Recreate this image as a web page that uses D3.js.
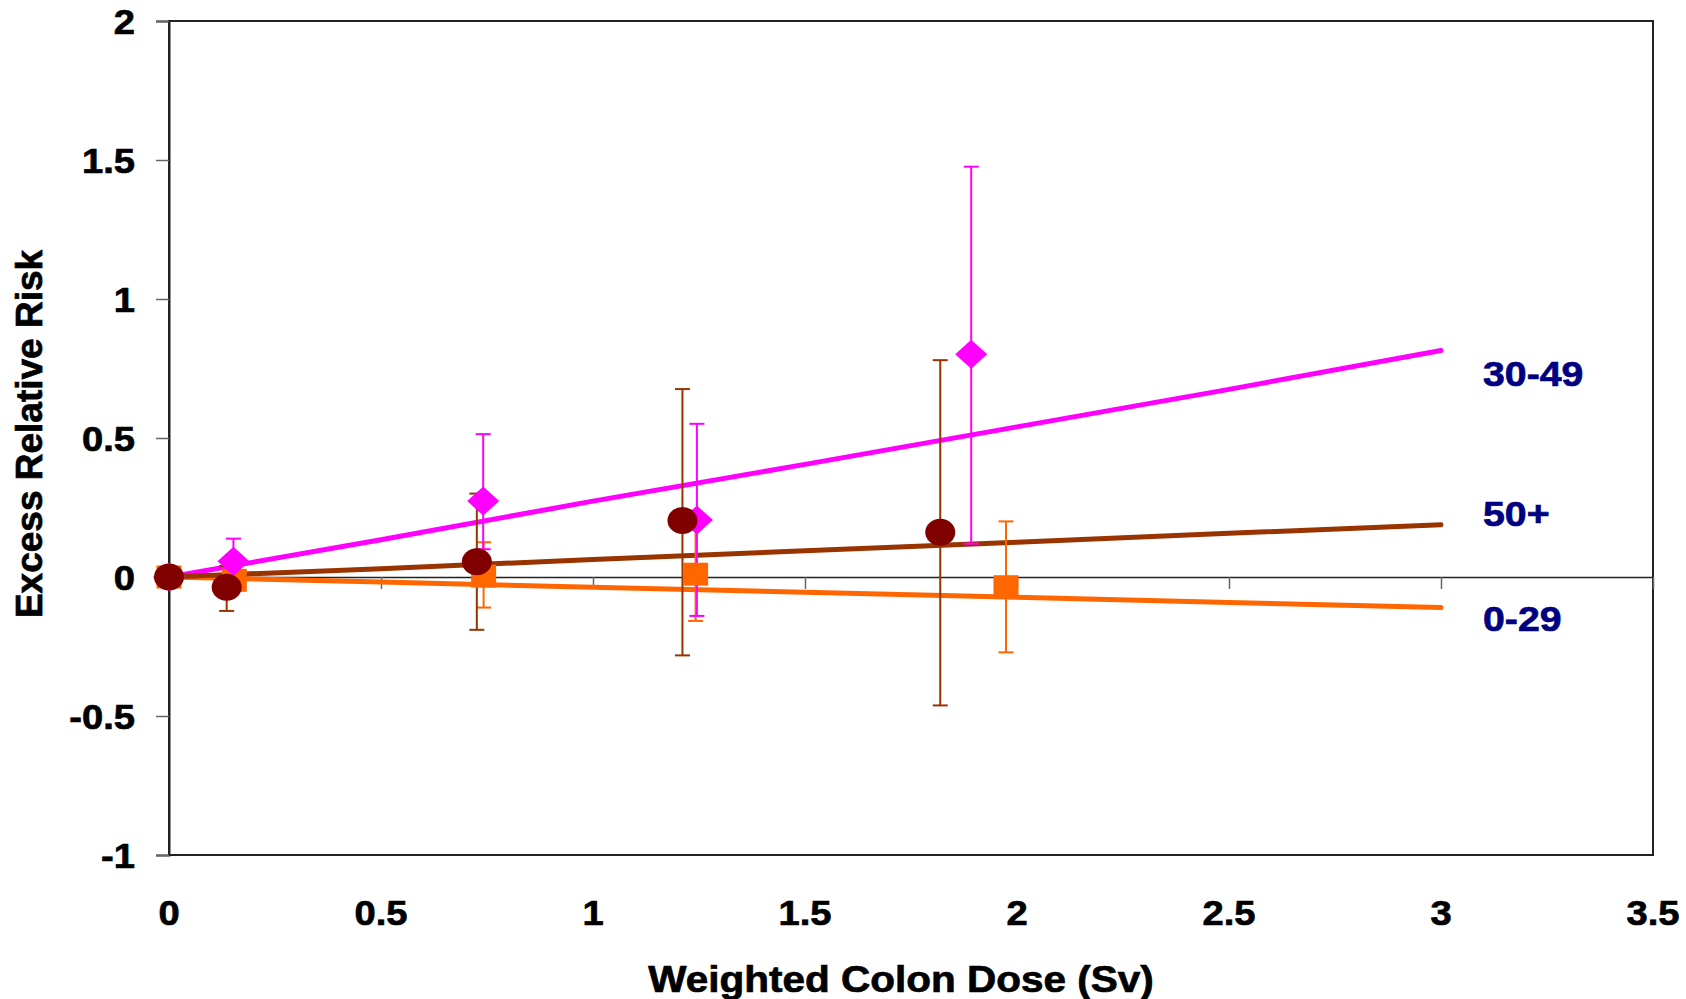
<!DOCTYPE html>
<html>
<head>
<meta charset="utf-8">
<script src="https://cdn.jsdelivr.net/npm/d3@7"></script>
<style>
  html, body { margin: 0; padding: 0; background: #fff; }
  svg { display: block; }
  text { font-family: "Liberation Sans", Arial, sans-serif; font-weight: bold; stroke-width: 0.7px; }
</style>
</head>
<body>
<svg id="chart" width="1686" height="999"></svg>
<script>
// ---------- data ----------
const xTicks = [0, 0.5, 1, 1.5, 2, 2.5, 3, 3.5];
const yTicks = [-1, -0.5, 0, 0.5, 1, 1.5, 2];
const xTickLabels = ["0", "0.5", "1", "1.5", "2", "2.5", "3", "3.5"];
const yTickLabels = ["-1", "-0.5", "0", "0.5", "1", "1.5", "2"];
const seriesNames = ["0-29", "30-49", "50+"];

// fitted lines (dose, ERR)
const fitDose = [0, 0.5, 1, 1.5, 2, 2.5, 3];
const fit0029 = [0, -0.018, -0.037, -0.055, -0.073, -0.092, -0.11];
const fit3049 = [0, 0.134, 0.273, 0.405, 0.54, 0.675, 0.815];
const fit50p  = [0, 0.03, 0.063, 0.094, 0.125, 0.157, 0.188];

// observed points with error bars
const dose0029 = [0, 0.154, 0.742, 1.242, 1.974];
const err0029  = [0, -0.012, 0.003, 0.01, -0.035];
const lo0029   = [0, -0.05, -0.11, -0.158, -0.271];
const hi0029   = [0, 0.02, 0.125, 0.2, 0.2];

const dose3049 = [0, 0.152, 0.741, 1.245, 1.892];
const err3049  = [0, 0.057, 0.273, 0.205, 0.801];
const lo3049   = [0, -0.01, 0.1, -0.14, 0.12];
const hi3049   = [0, 0.138, 0.514, 0.551, 1.476];

const dose50p  = [0, 0.136, 0.726, 1.211, 1.819];
const err50p   = [0, -0.037, 0.055, 0.203, 0.161];
const lo50p    = [0, -0.122, -0.19, -0.282, -0.462];
const hi50p    = [0, 0.04, 0.30, 0.676, 0.78];

// ---------- layout ----------
const svg = d3.select("#chart");
const L = 169, R = 1653, T = 21, B = 855;
const x = d3.scaleLinear().domain([0, 3.5]).range([L, R]);
const y = d3.scaleLinear().domain([-1, 2]).range([B, T]);

const cPink = "#FF00FF", cOrange = "#FF6600", cBrownLine = "#993300", cBrownMark = "#800000", cNavy = "#000080";

// frame
svg.append("rect").attr("x", L).attr("y", T).attr("width", R - L).attr("height", B - T)
  .attr("fill", "none").attr("stroke", "#222").attr("stroke-width", 2);

// y axis ticks
const yAxis = d3.axisLeft(y).tickValues(yTicks).tickSize(13).tickFormat("");
const gy = svg.append("g").attr("transform", `translate(${L},0)`).call(yAxis);
gy.select(".domain").attr("stroke", "#222").attr("stroke-width", 2);
gy.selectAll(".tick line").attr("stroke", "#666").attr("stroke-width", 1.5);

// x axis at y = 0
const xAxis = d3.axisBottom(x).tickValues(xTicks).tickSize(12).tickSizeOuter(0).tickFormat("");
const gx = svg.append("g").attr("transform", `translate(0,${y(0)})`).call(xAxis);
gx.select(".domain").attr("stroke", "#222").attr("stroke-width", 1.5);
gx.selectAll(".tick line").attr("stroke", "#666").attr("stroke-width", 1.5);

// tick labels
function stretchedText(g, tx, ty, str, size, anchor, sx, color) {
  return g.append("text")
    .attr("transform", `translate(${tx},${ty}) scale(${sx},1)`)
    .attr("text-anchor", anchor)
    .attr("dominant-baseline", "central")
    .attr("font-size", size)
    .attr("fill", color).attr("stroke", color)
    .text(str);
}
const labels = svg.append("g");
yTicks.forEach((v, i) => stretchedText(labels, 135, y(v) + 1, yTickLabels[i], 35, "end", 1.09, "#000"));
xTicks.forEach((v, i) => stretchedText(labels, x(v), 913, xTickLabels[i], 35, "middle", 1.09, "#000"));

// axis titles
stretchedText(labels, 901, 979, "Weighted Colon Dose (Sv)", 36.5, "middle", 1.11, "#000");
labels.append("text")
  .attr("transform", `translate(29,434) rotate(-90)`)
  .attr("text-anchor", "middle").attr("dominant-baseline", "central")
  .attr("fill", "#000").attr("stroke", "#000")
  .attr("font-size", 37).text("Excess Relative Risk");

// fitted lines
const line = d3.line().x(d => x(d[0])).y(d => y(d[1]));
const fits = [
  { vals: fit0029, color: cOrange },
  { vals: fit3049, color: cPink },
  { vals: fit50p, color: cBrownLine }
];
fits.forEach(f => {
  svg.append("path").datum(fitDose.map((d, i) => [d, f.vals[i]]))
    .attr("d", line).attr("fill", "none").attr("stroke", f.color)
    .attr("stroke-width", 5).attr("stroke-linecap", "round");
});

// error bars
const series = [
  { dose: dose0029, v: err0029, lo: lo0029, hi: hi0029, bar: cOrange, mark: cOrange, shape: "square" },
  { dose: dose3049, v: err3049, lo: lo3049, hi: hi3049, bar: cPink, mark: cPink, shape: "diamond" },
  { dose: dose50p, v: err50p, lo: lo50p, hi: hi50p, bar: cBrownLine, mark: cBrownMark, shape: "circle" }
];
series.forEach(s => {
  const g = svg.append("g").attr("stroke", s.bar).attr("stroke-width", 2);
  s.dose.forEach((d, i) => {
    if (s.lo[i] === s.hi[i]) return;
    const cx = x(d);
    g.append("line").attr("x1", cx).attr("x2", cx).attr("y1", y(s.lo[i])).attr("y2", y(s.hi[i]));
    [s.lo[i], s.hi[i]].forEach(e => {
      g.append("line").attr("x1", cx - 7.5).attr("x2", cx + 7.5).attr("y1", y(e)).attr("y2", y(e));
    });
  });
});

// markers
series.forEach(s => {
  const g = svg.append("g").attr("fill", s.mark);
  s.dose.forEach((d, i) => {
    const cx = x(d), cy = y(s.v[i]);
    if (s.shape === "square") {
      g.append("rect").attr("x", cx - 12.5).attr("y", cy - 11.5).attr("width", 25).attr("height", 23);
    } else if (s.shape === "diamond") {
      g.append("path").attr("d", `M${cx},${cy - 14.5}L${cx + 16},${cy}L${cx},${cy + 14.5}L${cx - 16},${cy}Z`);
    } else {
      g.append("ellipse").attr("cx", cx).attr("cy", cy).attr("rx", 15).attr("ry", 13.5);
    }
  });
});

// series labels
const sl = svg.append("g");
stretchedText(sl, 1483, 374, seriesNames[1], 36, "start", 1.09, cNavy);
stretchedText(sl, 1483, 514, seriesNames[2], 36, "start", 1.09, cNavy);
stretchedText(sl, 1483, 619, seriesNames[0], 36, "start", 1.09, cNavy);
</script>
</body>
</html>
